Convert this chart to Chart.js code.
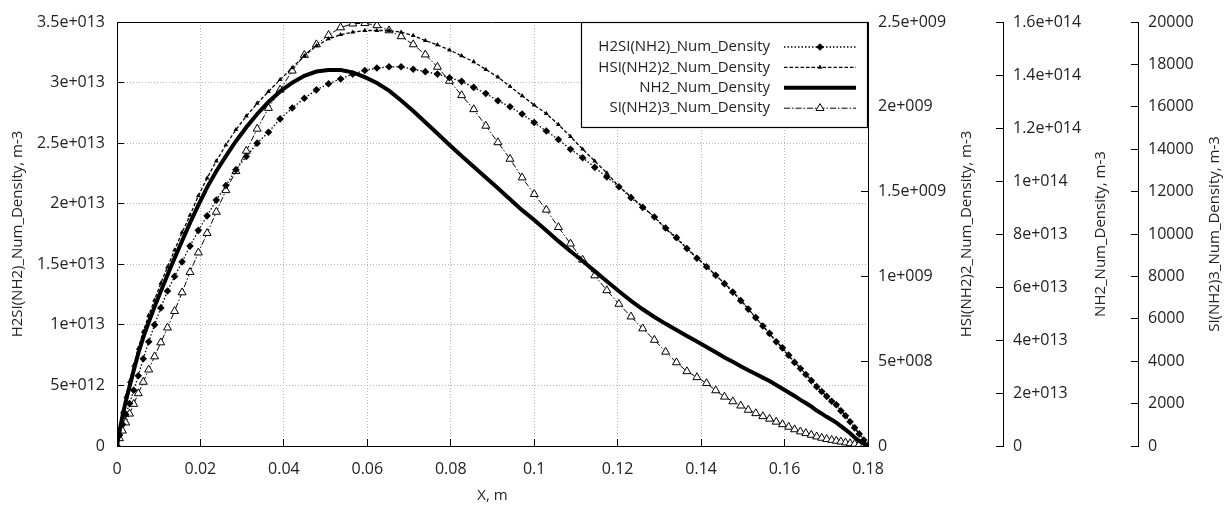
<!DOCTYPE html>
<html>
<head>
<meta charset="utf-8">
<script src="https://cdn.jsdelivr.net/npm/chart.js@4.4.1/dist/chart.umd.min.js"></script>
<style>
  html, body { margin: 0; padding: 0; background: #fff; }
</style>
</head>
<body>
<canvas id="densityChart" width="1224" height="506"></canvas>
<script>
// --- data ---
const xPos = [0, 0.0006, 0.0013, 0.0021, 0.003, 0.004, 0.0051, 0.0063, 0.0076, 0.009,
  0.0105, 0.0121, 0.0138, 0.0156, 0.0175, 0.0195, 0.0216, 0.0238, 0.0261, 0.0285,
  0.031, 0.0336, 0.0363, 0.0391, 0.042, 0.0449, 0.0478, 0.0507, 0.0536, 0.0565,
  0.0594, 0.0623, 0.0652, 0.0681, 0.071, 0.0739, 0.0768, 0.0797, 0.0826, 0.0855,
  0.0884, 0.0913, 0.0942, 0.0971, 0.1, 0.1029, 0.1058, 0.1087, 0.1116, 0.1145,
  0.1174, 0.1203, 0.1232, 0.126, 0.1288, 0.1315, 0.1341, 0.1366, 0.139, 0.1413,
  0.1435, 0.1456, 0.1476, 0.1495, 0.1513, 0.1531, 0.1548, 0.1564, 0.158, 0.1595,
  0.161, 0.1624, 0.1638, 0.1651, 0.1664, 0.1677, 0.1689, 0.1701, 0.1713, 0.1724,
  0.1735, 0.1746, 0.1757, 0.1768, 0.1779, 0.179, 0.18];

const h2siDensity = [0, 0.09e13, 0.18e13, 0.26e13, 0.35e13, 0.46e13, 0.58e13, 0.72e13, 0.86e13, 1.00e13,
  1.14e13, 1.28e13, 1.40e13, 1.52e13, 1.65e13, 1.78e13, 1.90e13, 2.03e13, 2.15e13, 2.28e13,
  2.39e13, 2.50e13, 2.59e13, 2.70e13, 2.79e13, 2.87e13, 2.94e13, 2.99e13, 3.03e13, 3.07e13,
  3.10e13, 3.12e13, 3.13e13, 3.13e13, 3.11e13, 3.09e13, 3.07e13, 3.04e13, 3.01e13, 2.96e13,
  2.91e13, 2.85e13, 2.80e13, 2.74e13, 2.67e13, 2.60e13, 2.53e13, 2.45e13, 2.38e13, 2.30e13,
  2.22e13, 2.14e13, 2.05e13, 1.97e13, 1.89e13, 1.80e13, 1.72e13, 1.63e13, 1.55e13, 1.48e13,
  1.41e13, 1.34e13, 1.27e13, 1.20e13, 1.13e13, 1.06e13, 0.99e13, 0.93e13, 0.86e13, 0.81e13,
  0.75e13, 0.69e13, 0.64e13, 0.59e13, 0.54e13, 0.49e13, 0.45e13, 0.41e13, 0.37e13, 0.34e13,
  0.29e13, 0.25e13, 0.20e13, 0.15e13, 0.10e13, 0.05e13, 0];

const hsiDensity = [0, 0.10e9, 0.20e9, 0.29e9, 0.38e9, 0.475e9, 0.575e9, 0.675e9, 0.77e9, 0.86e9,
  0.96e9, 1.055e9, 1.155e9, 1.26e9, 1.36e9, 1.475e9, 1.58e9, 1.68e9, 1.775e9, 1.865e9,
  1.945e9, 2.02e9, 2.09e9, 2.16e9, 2.23e9, 2.30e9, 2.36e9, 2.40e9, 2.425e9, 2.44e9,
  2.45e9, 2.45e9, 2.45e9, 2.44e9, 2.42e9, 2.39e9, 2.365e9, 2.335e9, 2.30e9, 2.265e9,
  2.22e9, 2.175e9, 2.12e9, 2.065e9, 2.01e9, 1.96e9, 1.895e9, 1.825e9, 1.75e9, 1.68e9,
  1.61e9, 1.53e9, 1.47e9, 1.41e9, 1.35e9, 1.28e9, 1.225e9, 1.165e9, 1.11e9, 1.06e9,
  1.005e9, 0.96e9, 0.91e9, 0.86e9, 0.81e9, 0.755e9, 0.71e9, 0.66e9, 0.62e9, 0.575e9,
  0.53e9, 0.495e9, 0.46e9, 0.42e9, 0.39e9, 0.35e9, 0.32e9, 0.295e9, 0.265e9, 0.24e9,
  0.21e9, 0.18e9, 0.145e9, 0.11e9, 0.07e9, 0.035e9, 0];

const nh2Density = [0, 0.056e14, 0.112e14, 0.168e14, 0.224e14, 0.285e14, 0.349e14, 0.410e14, 0.467e14, 0.525e14,
  0.584e14, 0.645e14, 0.709e14, 0.774e14, 0.842e14, 0.909e14, 0.976e14, 1.037e14, 1.094e14, 1.150e14,
  1.203e14, 1.253e14, 1.298e14, 1.338e14, 1.371e14, 1.397e14, 1.413e14, 1.419e14, 1.419e14, 1.410e14,
  1.392e14, 1.370e14, 1.341e14, 1.304e14, 1.264e14, 1.222e14, 1.179e14, 1.136e14, 1.094e14, 1.054e14,
  1.013e14, 0.973e14, 0.931e14, 0.890e14, 0.853e14, 0.813e14, 0.773e14, 0.735e14, 0.698e14, 0.660e14,
  0.622e14, 0.584e14, 0.548e14, 0.516e14, 0.487e14, 0.461e14, 0.438e14, 0.415e14, 0.394e14, 0.374e14,
  0.354e14, 0.334e14, 0.318e14, 0.301e14, 0.286e14, 0.272e14, 0.258e14, 0.245e14, 0.230e14, 0.216e14,
  0.202e14, 0.189e14, 0.174e14, 0.162e14, 0.149e14, 0.134e14, 0.122e14, 0.110e14, 0.099e14, 0.088e14,
  0.075e14, 0.062e14, 0.048e14, 0.032e14, 0.019e14, 0.008e14, 0];

const si3Density = [0, 360, 720, 1100, 1520, 1980, 2480, 3020, 3600, 4220,
  4880, 5580, 6360, 7240, 8200, 9120, 10040, 11040, 12060, 12960,
  13920, 14960, 15940, 16800, 17700, 18440, 18940, 19380, 19740, 19920,
  19940, 19840, 19600, 19320, 18940, 18460, 17880, 17220, 16540, 15880,
  15100, 14320, 13540, 12660, 11880, 11140, 10320, 9540, 8780, 8040,
  7340, 6700, 6100, 5540, 5000, 4440, 3940, 3520, 3240, 2960,
  2620, 2320, 2100, 1900, 1700, 1540, 1400, 1280, 1140, 1020,
  900, 780, 680, 600, 520, 440, 380, 320, 280, 240,
  200, 160, 120, 100, 80, 40, 0];

const seriesNames = ['H2SI(NH2)_Num_Density', 'HSI(NH2)2_Num_Density', 'NH2_Num_Density', 'SI(NH2)3_Num_Density'];
const axisTitles = {
  x: 'X, m',
  y: 'H2SI(NH2)_Num_Density, m-3',
  y1: 'HSI(NH2)2_Num_Density, m-3',
  y2: 'NH2_Num_Density, m-3',
  y3: 'SI(NH2)3_Num_Density, m-3'
};

const toPoints = (vals) => xPos.map((x, i) => ({ x, y: vals[i] }));

// 3.5e+013 style labels
const sciLabel = (v) => {
  if (v === 0) return '0';
  const exp = Math.floor(Math.log10(v) + 1e-9);
  const mant = +(v / Math.pow(10, exp)).toFixed(2);
  return mant + 'e+' + String(exp).padStart(3, '0');
};

const FONT = "'Open Sans', sans-serif";
Chart.defaults.font.family = FONT;
Chart.defaults.font.size = 15;
Chart.defaults.color = '#222';

const tickFont = { family: FONT, size: 16 };
const tickMarks = { drawTicks: true, tickLength: -7, tickColor: '#000', tickWidth: 1 };
const gridDots = { color: '#b4b4b4', lineWidth: 1, ...tickMarks };

// fixed box sizes so the plot area lands where it is in the picture
const fixSize = (prop, size) => (s) => {
  s[prop] = size;
  s.paddingTop = 0; s.paddingBottom = 0; s.paddingLeft = 0; s.paddingRight = 0;
};

// frame top edge, axis titles and the boxed legend
const decorations = {
  id: 'decorations',
  afterDraw(chart) {
    const { ctx, chartArea: a } = chart;
    ctx.save();
    ctx.strokeStyle = '#000';
    ctx.lineWidth = 1;
    ctx.beginPath();
    ctx.moveTo(a.left, Math.round(a.top) + 0.5);
    ctx.lineTo(a.right, Math.round(a.top) + 0.5);
    ctx.stroke();

    ctx.fillStyle = '#222';
    ctx.font = '15px ' + FONT;
    ctx.textAlign = 'center';
    ctx.textBaseline = 'middle';
    ctx.fillText(axisTitles.x, (a.left + a.right) / 2, 496);
    const midY = (a.top + a.bottom) / 2;
    const vTitle = (text, x) => {
      ctx.save();
      ctx.translate(x, midY);
      ctx.rotate(-Math.PI / 2);
      ctx.fillText(text, 0, 0);
      ctx.restore();
    };
    vTitle(axisTitles.y, 18);
    vTitle(axisTitles.y1, 967);
    vTitle(axisTitles.y2, 1101);
    vTitle(axisTitles.y3, 1215);

    // legend box
    const bx = 581, by = 22, bw = 286, bh = 105;
    ctx.fillStyle = '#fff';
    ctx.fillRect(bx, by, bw, bh);
    ctx.strokeStyle = '#000';
    ctx.lineWidth = 1.2;
    ctx.strokeRect(bx + 0.5, by + 0.5, bw, bh);
    chart.data.datasets.forEach((ds, i) => {
      const y = 47 + i * 20.4;
      ctx.fillStyle = '#222';
      ctx.font = '15px ' + FONT;
      ctx.textAlign = 'right';
      ctx.textBaseline = 'middle';
      ctx.fillText(ds.label, 770, y);
      ctx.save();
      ctx.strokeStyle = '#000';
      ctx.lineWidth = ds.borderWidth;
      ctx.setLineDash(ds.borderDash || []);
      ctx.beginPath();
      ctx.moveTo(784, y);
      ctx.lineTo(856, y);
      ctx.stroke();
      ctx.restore();
      if (ds.pointRadius > 0) {
        ctx.save();
        ctx.fillStyle = ds.pointBackgroundColor;
        ctx.strokeStyle = ds.pointBorderColor;
        ctx.lineWidth = ds.pointBorderWidth;
        Chart.helpers.drawPoint(ctx, {
          pointStyle: ds.pointStyle, rotation: 0, radius: ds.pointRadius, borderWidth: ds.pointBorderWidth
        }, 820, y);
        ctx.restore();
      }
    });
    ctx.restore();
  }
};

const ctx = document.getElementById('densityChart').getContext('2d');
new Chart(ctx, {
  type: 'line',
  data: {
    datasets: [
      {
        label: seriesNames[0], data: toPoints(h2siDensity), yAxisID: 'y',
        borderColor: '#000', borderWidth: 1.3, borderDash: [1.5, 2],
        pointStyle: 'rectRot', pointRadius: 3.8, pointBackgroundColor: '#000',
        pointBorderColor: '#000', pointBorderWidth: 0
      },
      {
        label: seriesNames[1], data: toPoints(hsiDensity), yAxisID: 'y1',
        borderColor: '#000', borderWidth: 1.3, borderDash: [3.5, 2],
        pointStyle: 'triangle', pointRadius: 2.8, pointBackgroundColor: '#000',
        pointBorderColor: '#000', pointBorderWidth: 0
      },
      {
        label: seriesNames[2], data: toPoints(nh2Density), yAxisID: 'y2',
        borderColor: '#000', borderWidth: 4, pointRadius: 0
      },
      {
        label: seriesNames[3], data: toPoints(si3Density), yAxisID: 'y3',
        borderColor: '#000', borderWidth: 1, borderDash: [6, 2, 1.5, 2],
        pointStyle: 'triangle', pointRadius: 4.6, pointBackgroundColor: '#fff',
        pointBorderColor: '#000', pointBorderWidth: 1
      }
    ]
  },
  options: {
    responsive: false,
    animation: false,
    events: [],
    layout: { padding: { top: 22, left: 0, right: 0, bottom: 0 } },
    elements: { line: { tension: 0 } },
    plugins: { legend: { display: false }, tooltip: { enabled: false } },
    scales: {
      x: {
        type: 'linear', min: 0, max: 0.18,
        ticks: { stepSize: 0.02, padding: 21, autoSkip: false, maxRotation: 0, font: tickFont,
          callback: (v) => String(+v.toFixed(3)) },
        grid: gridDots,
        border: { display: true, color: '#000', width: 1, dash: [1, 2] },
        afterFit: fixSize('height', 60)
      },
      y: {
        position: 'left', min: 0, max: 3.5e13,
        ticks: { stepSize: 5e12, padding: 19, autoSkip: false, font: tickFont, callback: sciLabel },
        grid: gridDots,
        border: { display: true, color: '#000', width: 1, dash: [1, 2] },
        afterFit: fixSize('width', 117)
      },
      y1: {
        position: 'right', weight: 0, min: 0, max: 2.5e9,
        ticks: { stepSize: 5e8, padding: 17, autoSkip: false, font: tickFont, callback: sciLabel },
        grid: { drawOnChartArea: false, ...tickMarks },
        border: { display: true, color: '#000', width: 1 },
        afterFit: fixSize('width', 135)
      },
      y2: {
        position: 'right', weight: 1, min: 0, max: 1.6e14,
        ticks: { stepSize: 2e13, padding: 17, autoSkip: false, font: tickFont, callback: sciLabel },
        grid: { drawOnChartArea: false, ...tickMarks },
        border: { display: true, color: '#000', width: 1 },
        afterFit: fixSize('width', 135)
      },
      y3: {
        position: 'right', weight: 2, min: 0, max: 20000,
        ticks: { stepSize: 2000, padding: 17, autoSkip: false, font: tickFont, callback: (v) => String(v) },
        grid: { drawOnChartArea: false, ...tickMarks },
        border: { display: true, color: '#000', width: 1 },
        afterFit: fixSize('width', 86)
      }
    }
  },
  plugins: [decorations]
});
</script>
</body>
</html>
